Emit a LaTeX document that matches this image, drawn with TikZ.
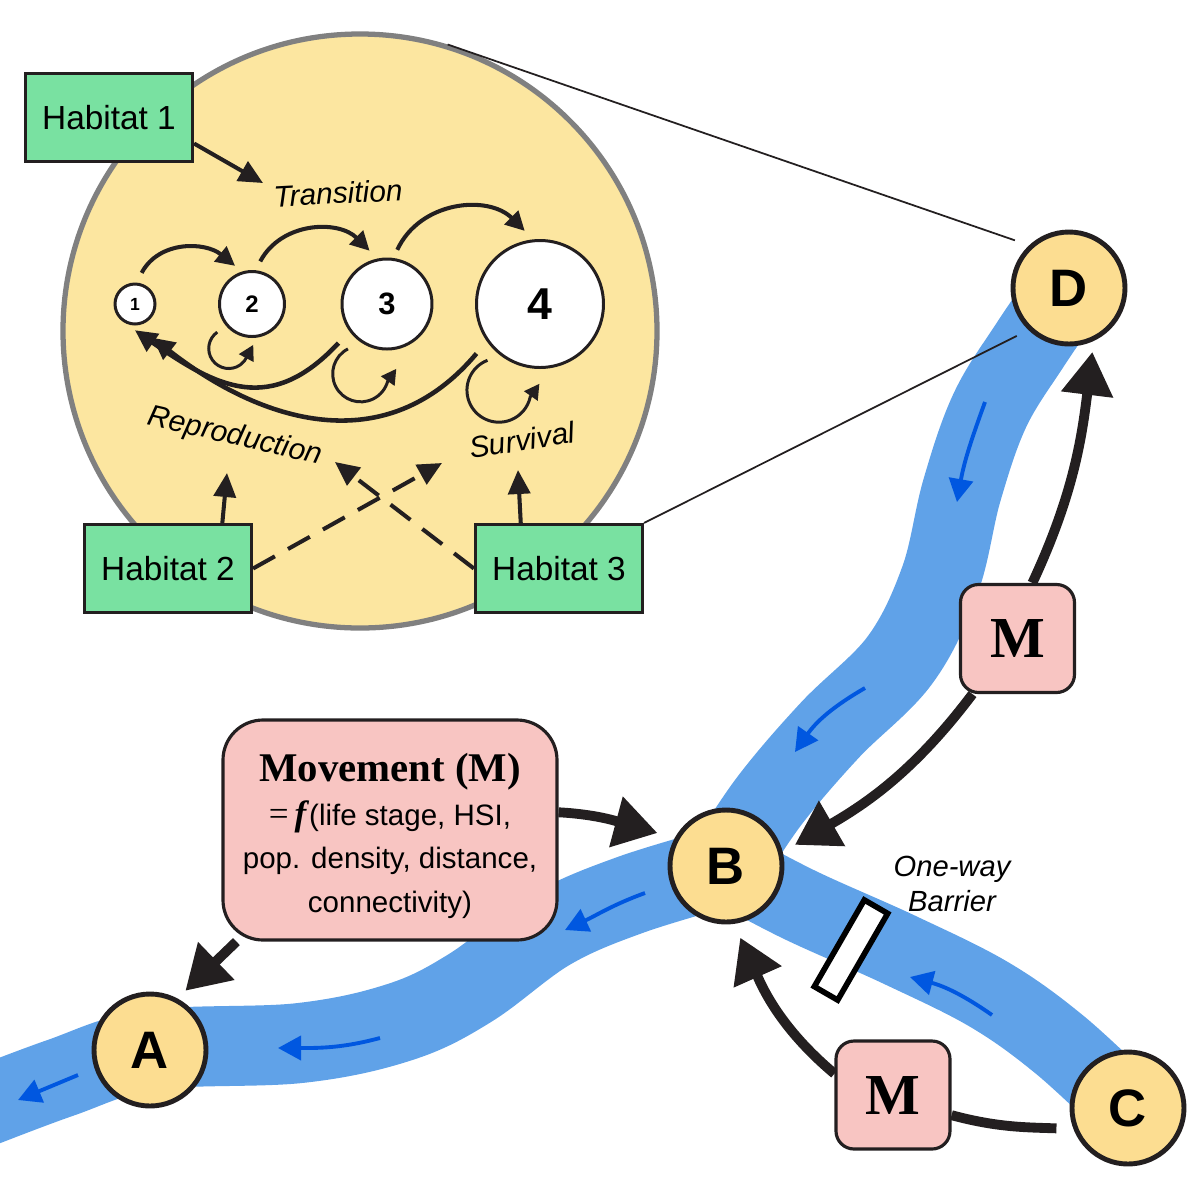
\documentclass[tikz,border=0pt]{standalone}
\usepackage{fontspec}
\setmainfont{Liberation Sans}
\newfontfamily\timesfont{Liberation Serif}
\usepackage{tikz}
\usetikzlibrary{shapes, arrows, arrows.meta, calc, positioning, backgrounds}
\definecolor{sandfill}{HTML}{FCE6A0}
\definecolor{sitefill}{HTML}{FCDD91}
\definecolor{grassfill}{HTML}{79E1A1}
\definecolor{rosefill}{HTML}{F8C5C2}
\definecolor{waterblue}{HTML}{60A2E8}
\definecolor{flowblue}{HTML}{0057E0}
\definecolor{inkblack}{HTML}{231F20}
\definecolor{rimgray}{HTML}{808080}
\tikzstyle{pool} = [draw=rimgray, circle, line width=1.5pt, fill=sandfill, minimum size=5.94cm]
\tikzstyle{stage} = [draw=inkblack, circle, line width=0.85pt, fill=white, inner sep=0pt]
\tikzstyle{habitat} = [draw=inkblack, rectangle, line width=0.9pt, fill=grassfill, minimum width=1.67cm, minimum height=0.88cm, font=\fontsize{9.5}{11}\selectfont]
\tikzstyle{site} = [draw=inkblack, circle, line width=1.4pt, fill=sitefill, minimum size=1.12cm, inner sep=0pt, font=\bfseries\fontsize{15}{15}\selectfont]
\tikzstyle{mbox} = [draw=inkblack, rectangle, rounded corners=1.8mm, line width=0.9pt, fill=rosefill, minimum width=1.14cm, minimum height=1.08cm, font=\timesfont\bfseries\fontsize{16.5}{16.5}\selectfont]
\tikzstyle{rate} = [font=\itshape\fontsize{8.5}{10}\selectfont]
\tikzstyle{barrier} = [draw=black, rectangle, line width=1.6pt, fill=white, minimum width=1.0cm, minimum height=0.27cm, inner sep=0pt]
\tikzstyle{wire} = [-{Triangle[length=1.9mm, width=1.9mm]}, line width=1.15pt, inkblack]
\tikzstyle{backwire} = [-{Triangle[length=2.2mm, width=2.1mm]}, line width=1.3pt, inkblack]
\tikzstyle{selfloop} = [-{Triangle[length=1.5mm, width=1.6mm]}, line width=0.85pt, inkblack]
\tikzstyle{effect} = [-{Triangle[length=2.4mm, width=2.2mm]}, line width=1.15pt, inkblack]
\tikzstyle{weak} = [effect, dash pattern=on 2.5mm off 1.5mm]
\tikzstyle{fish} = [-{Triangle[length=4.3mm, width=5mm]}, line width=2.8pt, inkblack]
\tikzstyle{river} = [waterblue, line width=8mm]
\tikzstyle{stream} = [-{Triangle[length=2.3mm, width=2.4mm]}, line width=1.1pt, flowblue]
\tikzstyle{zoomline} = [inkblack, line width=0.5pt]

\begin{document}
\begin{tikzpicture}
    \useasboundingbox (0,0) rectangle (12,-12);
    % inside one patch
    \node[pool] (pool) at (3.60,-3.31) {};
    \node[stage, minimum size=0.40cm, font=\bfseries\fontsize{5}{5}\selectfont] (s1) at (1.35,-3.04) {1};
    \node[stage, minimum size=0.65cm, font=\bfseries\fontsize{6.8}{7}\selectfont, right of=s1, node distance=1.17cm] (s2) {2};
    \node[stage, minimum size=0.90cm, font=\bfseries\fontsize{8.8}{9}\selectfont, right of=s2, node distance=1.35cm] (s3) {3};
    \node[stage, minimum size=1.27cm, font=\bfseries\fontsize{12.7}{13}\selectfont, right of=s3, node distance=1.53cm] (s4) {4};
    \node[rate, rotate=3] (trans) at (3.38,-1.93) {Transition};
    \node[rate, rotate=-13] (repro) at (2.35,-4.37) {Reproduction};
    \node[rate, rotate=9] (surv) at (5.22,-4.40) {Survival};
    \draw[wire, shorten <=1.1mm, shorten >=0.9mm] (s1.86) to[out=62, in=141, looseness=1.15] (s2.107);
    \draw[wire, shorten <=1.0mm, shorten >=1.1mm] (s2.84) to[out=62, in=135, looseness=1.15] (s3.102);
    \draw[wire, shorten <=0.9mm, shorten >=1.2mm] (s3.82) to[out=65, in=135, looseness=1.15] (s4.96);
    \draw[selfloop] (s2.219) ++(219:1.07mm) arc[start angle=125, end angle=337, radius=2mm] -- ++(62:1.3mm);
    \draw[selfloop] (s3.229) ++(229:1.3mm) arc[start angle=117, end angle=345, radius=2.8mm] -- ++(55:1.5mm);
    \draw[selfloop] (s4.227) ++(227:1.2mm) arc[start angle=111, end angle=348, radius=3.2mm] -- ++(55:1.6mm);
    \draw[backwire, shorten <=1.6mm, shorten >=1.5mm] (s3.216) to[out=-133, in=-35, looseness=1.3] (s1.-125);
    \draw[backwire, shorten <=1.6mm, shorten >=2.0mm] (s4.215) to[out=-130, in=-38, looseness=1.15] (s1.-85);
    % habitat effects
    \node[habitat] (h1) at (1.09,-1.175) {Habitat 1};
    \node[habitat] (h2) at (1.68,-5.685) {Habitat 2};
    \node[habitat] (h3) at (5.59,-5.685) {Habitat 3};
    \coordinate (toTrans) at (2.63,-1.83);
    \coordinate (toRepro) at (2.27,-4.73);
    \coordinate (toSurv) at (5.18,-4.70);
    \coordinate (toSurvB) at (4.42,-4.63);
    \coordinate (toReproB) at (3.35,-4.62);
    \draw[effect] (h1.-17) -- (toTrans);
    \draw[effect] (h2.40) -- (toRepro);
    \draw[effect] (h3.130) -- (toSurv);
    \draw[weak] (h2.east) -- (toSurvB);
    \draw[weak] (h3.west) -- (toReproB);
    % river network
    \node[site] (D) at (10.69,-2.88) {D};
    \node[site] (B) at (7.26,-8.66) {B};
    \node[site] (A) at (1.50,-10.50) {A};
    \node[site] (C) at (11.28,-11.08) {C};
    \draw[zoomline, shorten >=1.5mm] (pool.73) -- (D.133);
    \draw[zoomline, shorten >=1.3mm] (h3.north east) -- (D.226);
    \node[mbox] (mup) at (10.175,-6.385) {M};
    \node[mbox] (mlow) at (8.93,-10.95) {M};
    \node[mbox, minimum width=3.34cm, minimum height=2.20cm, rounded corners=4mm, align=center, font=\fontsize{8.4}{12.4}\selectfont] (mov) at (3.90,-8.30)
        {\rule{0pt}{4mm}{\timesfont\bfseries\fontsize{11.6}{13}\selectfont Movement (M)}\\{\timesfont\fontsize{10}{12}\selectfont =\,\textbf{\textit{f}}}(life stage, HSI,\\pop. density, distance,\\connectivity)};
    \node[barrier, rotate=60] (gate) at (8.51,-9.50) {};
    \node[rate, align=center, font=\itshape\fontsize{8.3}{9.8}\selectfont] (gatetxt) at (9.52,-8.84) {One-way\\Barrier};
    \coordinate (riverW) at (-0.30,-11.12);
    \begin{scope}[on background layer]
        \draw[river] plot[smooth, tension=0.6] coordinates {(riverW) (0.60,-10.78) (A.center) (3.00,-10.43) (4.00,-10.22) (4.70,-9.88) (5.50,-9.30) (6.30,-8.95) (B.center)};
        \draw[river] plot[smooth, tension=0.6] coordinates {(B.center) (7.70,-8.00) (8.30,-7.30) (9.00,-6.60) (9.40,-5.80) (9.62,-4.90) (9.90,-4.10) (10.30,-3.45) (D.center)};
        \draw[river, line width=7.5mm] plot[smooth, tension=0.6] coordinates {(B.center) (8.00,-9.05) (9.00,-9.50) (9.90,-9.95) (10.60,-10.45) (C.center)};
        % flow direction
        \draw[stream] (9.85,-4.02) to[out=-110, in=80] (9.57,-5.02);
        \draw[stream] (8.65,-6.88) to[out=-150, in=55] (7.95,-7.52);
        \draw[stream] (6.45,-8.93) to[out=-160, in=25] (5.65,-9.30);
        \draw[stream] (3.80,-10.38) to[out=-165, in=0] (2.78,-10.48);
        \draw[stream] (0.78,-10.75) -- (0.18,-11.00);
        \draw[stream] (9.92,-10.15) to[out=145, in=-15] (9.10,-9.77);
        % movement between sites
        \draw[fish, shorten >=1.8mm] (mov.6) to[out=-3, in=165] (B.151);
        \draw[fish, shorten >=1.1mm] (mov.216) -- (A.62);
        \draw[fish, shorten >=1.4mm] (mup.231) to[out=-127, in=30] (B.14);
        \draw[fish, shorten >=1.1mm] (mup.75) to[out=65, in=-97] (D.-65);
        \draw[fish, shorten >=1.5mm] (mlow.160) to[out=140, in=-66] (B.-82);
        \draw[inkblack, line width=2.8pt, shorten <=1.7mm] (C.201) to[out=178, in=-15] (mlow.-19);
    \end{scope}
\end{tikzpicture}
\end{document}
